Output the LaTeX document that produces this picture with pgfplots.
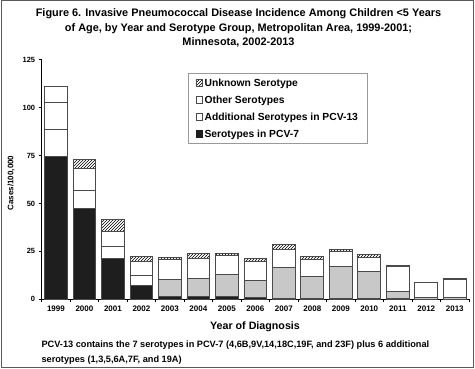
\documentclass[border=0pt]{standalone}
\usepackage{pgfplots}
\pgfplotsset{compat=1.18}
\usepackage{fontspec}
\setmainfont{Liberation Sans}
\usetikzlibrary{patterns}
\definecolor{edge}{HTML}{4A4A4A}
\definecolor{pcvblack}{HTML}{1E1E1E}
\definecolor{addgray}{HTML}{C8C8C8}
\pgfplotstableread{
x pcv addw addg other unkp unkh
0 74.7 13.8 0 14.1 8.3 0
1 47.4 9.5 0 11.5 0 4.5
2 21.2 6.5 0 7.8 0 5.9
3 7.4 5.2 0 6.9 0 2.7
4 1.7 0 8.8 10.2 0 1.3
5 1.3 0 9.4 10.8 0 2.6
6 1.7 0 11.4 10.0 0 0.7
7 0.9 0 8.7 9.9 0 1.7
8 0.4 0 16.2 9.3 0 2.6
9 0.3 0 11.4 9.3 0 1.4
10 0.3 0 16.9 7.9 0 1.1
11 0.3 0 14.0 7.4 0 1.9
12 0.2 0 3.9 13.1 0 0.2
13 0.1 0 0.9 7.8 0 0.1
14 0.1 0 1.1 9.0 0 0.9
}\data
\begin{document}
\begin{tikzpicture}[x=1pt,y=1pt]
\useasboundingbox (0,0) rectangle (475,369);
\draw[gray!70!black,line width=1pt] (1,1.5) rectangle (473.5,368);
\node[align=center,font=\bfseries\fontsize{10.9}{14.6}\selectfont] at (238.5,341) {Figure 6. Invasive Pneumococcal Disease Incidence Among Children <5 Years\\of Age, by Year and Serotype Group, Metropolitan Area, 1999-2001;\\Minnesota, 2002-2013};
\begin{axis}[
  at={(41.7pt,69.7pt)}, anchor=south west,
  scale only axis, width=427.3pt, height=239.6pt,
  ybar stacked, bar width=0.8,
  xmin=-0.5, xmax=14.5, ymin=0, ymax=125,
  axis lines*=left,
  axis line style={black,line width=0.9pt},
  xtick={0,...,14},
  xticklabels={1999,2000,2001,2002,2003,2004,2005,2006,2007,2008,2009,2010,2011,2012,2013},
  major x tick style={draw=none},
  minor xtick={-0.5,0.5,...,14.5},
  minor tick length=3pt,
  ytick={0,25,...,125},
  major tick length=3pt,
  tick align=outside,
  tick style={black,line width=0.8pt},
  /pgf/number format/assume math mode=true,
  yticklabel style={font=\bfseries\fontsize{7.5}{8}\selectfont},
  xticklabel style={font=\bfseries\fontsize{8}{9}\selectfont,yshift=-0.5pt},
  legend cell align=left,
  legend style={at={(0.343,0.943)},anchor=north west,draw=gray!80,line width=0.6pt,
    font=\bfseries\fontsize{10.3}{12}\selectfont,row sep=4pt,inner xsep=7pt,inner ysep=3pt,
    nodes={inner xsep=2pt}},
  legend image code/.code={\draw[#1,line width=0.5pt] (0pt,-2.8pt) rectangle (6.5pt,3.4pt);},
  every axis plot/.append style={draw=edge,line width=0.9pt},
]
\addlegendimage{fill=white,draw=edge,postaction={pattern=north east lines}}
\addlegendentry{Unknown Serotype}
\addlegendimage{fill=white,draw=edge}
\addlegendentry{Other Serotypes}
\addlegendimage{fill=white,draw=edge}
\addlegendentry{Additional Serotypes in PCV-13\hspace{9pt}}
\addlegendimage{fill=pcvblack,draw=pcvblack}
\addlegendentry{Serotypes in PCV-7}
\addplot[forget plot,fill=pcvblack,draw=edge] table[x=x,y=pcv]{\data};
\addplot[forget plot,fill=white,draw=edge] table[x=x,y=addw]{\data};
\addplot[forget plot,fill=addgray,draw=edge] table[x=x,y=addg]{\data};
\addplot[forget plot,fill=white,draw=edge] table[x=x,y=other]{\data};
\addplot[forget plot,fill=white,draw=edge] table[x=x,y=unkp]{\data};
\addplot[forget plot,fill=white,draw=edge,postaction={pattern=north east lines}] table[x=x,y=unkh]{\data};
\end{axis}
\node[font=\bfseries\fontsize{10.7}{12}\selectfont] at (255,42) {Year of Diagnosis};
\node[rotate=90,font=\bfseries\fontsize{8}{9}\selectfont] at (11,186) {Cases/100,000};
\node[anchor=west,align=left,font=\bfseries\fontsize{9.2}{14.5}\selectfont] at (38,16.5) {PCV-13 contains the 7 serotypes in PCV-7 (4,6B,9V,14,18C,19F, and 23F) plus 6 additional\\serotypes (1,3,5,6A,7F, and 19A)};
\end{tikzpicture}
\end{document}
